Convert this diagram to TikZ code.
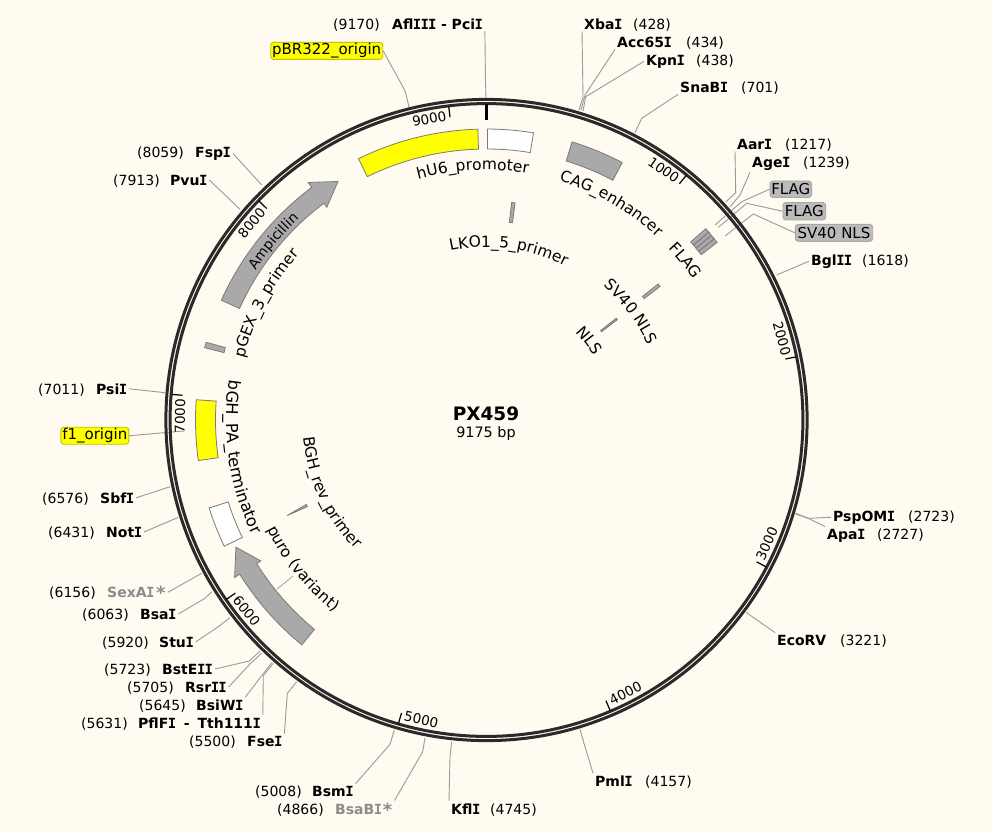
\documentclass[tikz,border=0pt]{standalone}
\usepackage{fontspec}
\setmainfont{DejaVu Sans}
\setmonofont{DejaVu Sans Mono}
\usetikzlibrary{decorations.text}
\catcode`\_=12
\definecolor{bgcol}{HTML}{FFFBF0}
\definecolor{ringcol}{HTML}{2A2A2A}
\definecolor{leadcol}{HTML}{9A9A9A}
\definecolor{featgray}{HTML}{A9A9A9}
\definecolor{featline}{HTML}{7A7A7A}
\definecolor{tagfill}{HTML}{BBBBBB}
\definecolor{tagline}{HTML}{A8A8A8}
\definecolor{ylw}{HTML}{FFFF00}
\definecolor{ylwline}{HTML}{C2C200}
\definecolor{mutedtxt}{HTML}{8C8C8C}
\newcommand\lblfont{\fontsize{14}{16}\selectfont}
\newcommand\arcfont{\fontsize{15.5}{17}\selectfont}
\newcommand\ampfont{\fontsize{14}{16}\selectfont}
\newcommand\bghfont{\fontsize{16.3}{18}\selectfont}
\newcommand\tagfont{\fontsize{15}{17}\selectfont}
\newcommand\II{{\ttfamily\bfseries\kern-.03em I\kern-.03em}}
\newcommand\Ast{\raisebox{-2pt}{\fontsize{18}{18}\selectfont *}}
\newcommand\CX{486.5}
\newcommand\CY{420}
% named polar point: name, bearing clockwise from the top, radius
\newcommand\PC[3]{\coordinate (#1) at ({\CX+(#3)*sin(#2)},{\CY-(#3)*cos(#2)});}
% annular sector
\newcommand\sector[5]{\draw[#1] plot[variable=\t,domain=0:1,samples=30] ({\CX+(#5)*sin(#2+(#3-#2)*\t)},{\CY-(#5)*cos(#2+(#3-#2)*\t)}) -- plot[variable=\t,domain=0:1,samples=30] ({\CX+(#4)*sin(#3+(#2-#3)*\t)},{\CY-(#4)*cos(#3+(#2-#3)*\t)}) -- cycle;}
% arrow feature: style, tail, neck, tip bearing
\newcommand\featarrow[4]{\PC{hA}{#3}{297}\PC{hB}{#4}{281}\PC{hC}{#3}{266}
  \draw[#1] plot[variable=\t,domain=0:1,samples=30] ({\CX+291*sin(#2+(#3-#2)*\t)},{\CY-291*cos(#2+(#3-#2)*\t)}) -- (hA) -- (hB) -- (hC) -- plot[variable=\t,domain=0:1,samples=30] ({\CX+271*sin(#3+(#2-#3)*\t)},{\CY-271*cos(#3+(#2-#3)*\t)}) -- cycle;}
% curved label: font, centre bearing, baseline radius, direction, text
\newcommand\arctext[5]{\path[decorate,decoration={text along path,text align=center,text={|#1|#5}}] plot[variable=\t,domain=0:1,samples=90] ({\CX+(#3)*sin(#2+(#4)*45*(2*\t-1))},{\CY-(#3)*cos(#2+(#4)*45*(2*\t-1))});}
% scale tick
\newcommand\ticklab[1]{\pgfmathsetmacro\tb{#1/9175*360}\pgfmathsetmacro\lb{\tb-3.9}
  \pgfmathsetmacro\rt{ifthenelse(\lb>90 && \lb<270,180-\lb,-\lb)}
  \PC{tA#1}{\tb}{316}\PC{tB#1}{\tb}{305}
  \draw[tickline] (tA#1) -- (tB#1);
  \node[ticktxt,rotate=\rt] (t#1) at ({\CX+306.5*sin(\lb)},{\CY-306.5*cos(\lb)}) {#1};}
% enzyme label: id, bold x, centre y, bold text, number x, number
\newcommand\enz[6]{\node[lbl,anchor=base west,font=\lblfont\bfseries] (n#1) at ({#2-2},{#3+5}) {#4};
  \node[lbl,anchor=base west] (m#1) at ({#5-2},{#3+5}) {(#6)};}
\newcommand\enzg[6]{\node[lbl,anchor=base west,font=\lblfont\bfseries,text=mutedtxt] (n#1) at ({#2-2},{#3+5}) {#4};
  \node[lbl,anchor=base west] (m#1) at ({#5-2},{#3+5}) {(#6)};}
% leaders
\newcommand\leadk[4]{\coordinate (#1-k) at (#3); \coordinate (#1-e) at (#4); \draw[leader] (n#1.#2) -- (#1-k) -- (#1-e);}
\newcommand\leads[3]{\coordinate (#1-e) at (#3); \draw[leader] (n#1.#2) -- (#1-e);}
\tikzset{
  lbl/.style={inner sep=2pt,font=\lblfont,text=black},
  ticktxt/.style={inner sep=0pt,font=\fontsize{13.5}{15}\selectfont,text=black},
  tickline/.style={draw=black,line width=1.2pt},
  leader/.style={draw=leadcol,line width=.9pt},
  ringline/.style={draw=ringcol,line width=3pt},
  fgray/.style={fill=featgray,draw=featline,line width=.8pt},
  fyellow/.style={fill=ylw,draw=featline,line width=.8pt},
  fwhite/.style={fill=white,draw=featline,line width=.8pt},
  tag/.style={rounded corners=3pt,inner sep=0pt,font=\tagfont,text=black,line width=.9pt},
  graytag/.style={tag,fill=tagfill,draw=tagline},
  yellowtag/.style={tag,fill=ylw,draw=ylwline},
}
\begin{document}
\begin{tikzpicture}[x=1pt,y=-1pt]
\fill[bgcol] (0,0) rectangle (992,831);
\useasboundingbox (0,0) rectangle (992,831);

% features
\sector{fyellow}{-26.1}{-1.7}{271}{291}
\sector{fwhite}{0.2}{9.3}{271}{291}
\sector{fgray}{17.1}{27.8}{271}{291}
\sector{fgray}{48.9}{49.8}{271}{291}
\sector{fgray}{49.8}{50.65}{271}{291}
\sector{fgray}{50.65}{51.5}{271}{291}
\sector{fgray}{51.5}{52.4}{271}{291}
\sector{fgray}{6.6}{7.5}{199}{219}
\sector{fgray}{51.6}{52.4}{199}{219}
\sector{fgray}{51.9}{52.5}{145}{165}
\sector{fgray}{-75.6}{-74.5}{271}{291}
\sector{fyellow}{-98}{-86}{271}{291}
\sector{fwhite}{-115.7}{-107.6}{271}{291}
\featarrow{fgray}{-65.7}{-36.9}{-31.9}
\featarrow{fgray}{-140.6}{-122}{-116.9}
\PC{bgA}{-115.6}{221}
\PC{bgB}{-115.1}{199}
\PC{bgC}{-115.8}{199}
\draw[fgray] (bgA) -- (bgB) -- (bgC) -- cycle;
\coordinate (puroA) at (277,589); \coordinate (puroB) at (293,576);
\draw[leader,line width=.7pt] (puroA) -- (puroB);

% curved feature labels
\arctext{\arcfont}{-3.1}{250}{1}{hU6_promoter}
\arctext{\arcfont}{30}{250}{1}{CAG_enhancer}
\arctext{\arcfont}{51.3}{250}{1}{FLAG}
\arctext{\arcfont}{7.5}{173}{1}{LKO1_5_primer}
\arctext{\arcfont}{53}{178}{1}{SV40 NLS}
\arctext{\arcfont}{52.4}{125}{1}{NLS}
\arctext{\ampfont}{-50}{275}{1}{Ampicillin}
\arctext{\arcfont}{-62}{250}{1}{pGEX_3_primer}
\arctext{\bghfont}{-98.7}{260.5}{-1}{bGH_PA_terminator}
\arctext{\arcfont}{-129}{245}{-1}{puro (variant)}
\arctext{\arcfont}{-115}{184}{-1}{BGH_rev_primer}

% enzyme labels
\enz{Afl}{392}{24}{Afl\II\II\II{} - Pci\II}{333}{9170}
\enz{Xba}{584}{24}{Xba\II}{633}{428}
\enz{Acc}{617}{42}{Acc65\II}{686}{434}
\enz{Kpn}{646}{60}{Kpn\II}{696}{438}
\enz{Sna}{680}{87}{SnaB\II}{741}{701}
\enz{Aar}{737}{144}{Aar\II}{785}{1217}
\enz{Age}{752}{162}{Age\II}{803}{1239}
\enz{Bgl}{811}{260}{Bgl\II\II}{862}{1618}
\enz{Psp}{833}{516}{PspOM\II}{908}{2723}
\enz{Apa}{827}{534}{Apa\II}{877}{2727}
\enz{Eco}{777}{640}{EcoRV}{840}{3221}
\enz{Pml}{595}{781}{Pml\II}{645}{4157}
\enz{Kfl}{451}{809}{Kfl\II}{490}{4745}
\enzg{BsaB}{335}{809}{BsaB\II\kern1pt\Ast}{277}{4866}
\enz{Bsm}{312}{791}{Bsm\II}{255}{5008}
\enz{Fse}{247}{741}{Fse\II}{189}{5500}
\enz{Pfl}{138}{723}{PflF\II\hspace{3pt} - \hspace{3pt}Tth111\II}{81}{5631}
\enz{BsiW}{196}{705}{BsiW\II}{139}{5645}
\enz{Rsr}{185}{687}{Rsr\II\II}{127}{5705}
\enz{Bst}{162}{669}{BstE\II\II}{104}{5723}
\enz{Stu}{159}{642}{Stu\II}{102}{5920}
\enz{Bsa}{140}{614}{Bsa\II}{82}{6063}
\enzg{Sex}{107}{592}{SexA\II\kern2pt\Ast}{49}{6156}
\enz{Not}{106}{532}{Not\II}{48}{6431}
\enz{Sbf}{100}{498}{Sbf\II}{42}{6576}
\enz{Psi}{96}{389}{Psi\II}{38}{7011}
\enz{Pvu}{170}{180}{Pvu\II}{113}{7913}
\enz{Fsp}{195}{152}{Fsp\II}{137}{8059}

% tags
\node[yellowtag,minimum width=112pt,minimum height=17pt] (npBR) at (326.7,50.8) {pBR322_origin};
\node[yellowtag,minimum width=68pt,minimum height=17pt] (nf1) at (94.8,435.7) {f1_origin};
\node[graytag,minimum width=41.7pt,minimum height=16.5pt] (nFa) at (790.8,189.2) {FLAG};
\node[graytag,minimum width=42.7pt,minimum height=17.5pt] (nFb) at (804.3,211.2) {FLAG};
\node[graytag,minimum width=77.4pt,minimum height=17pt] (nSV) at (834,232.8) {SV40 NLS};

% leaders
\leadk{Afl}{south east}{485.5,82}{486,98}
\leadk{Xba}{south west}{583,97}{579,110}
\leadk{Acc}{south west}{585,95}{581,110}
\leadk{Kpn}{west}{585.7,96.7}{583,111}
\leadk{Sna}{south west}{641.7,118.3}{635,132.7}
\leadk{Aar}{south west}{735.7,192.7}{726,201.7}
\leadk{Age}{south west}{740,195}{730,207}
\leads{Bgl}{west}{776.7,275}
\leadk{Psp}{west}{808.3,518.3}{795.7,513.3}
\leadk{Apa}{north west}{808.3,518.3}{795.7,514}
\leads{Eco}{north west}{746,612.3}
\leadk{Pml}{north west}{584,743.3}{580,729.3}
\leadk{Kfl}{north west}{450,756.7}{451.7,741.7}
\leadk{BsaB}{north east}{422.7,751.7}{425,737.7}
\leadk{Bsm}{north east}{390,744.3}{394.3,730}
\leadk{Fse}{north east}{287.3,693.3}{296.7,681.7}
\leadk{Pfl}{north east}{263.3,675.7}{273.3,663.3}
\leads{BsiW}{north east}{271.7,662.7}
\leadk{Rsr}{east}{250,664}{261.7,653}
\leadk{Bst}{east}{249.3,661}{260,651}
\leadk{Stu}{east}{218.3,626.7}{230,617.7}
\leadk{Bsa}{east}{205,598.3}{211.7,591.7}
\leads{Sex}{east}{201.7,573.3}
\leads{Not}{east}{178.3,517.3}
\leads{Sbf}{east}{170,486.7}
\leads{Psi}{east}{165,392.7}
\leads{f1}{east}{184,431}
\leads{Pvu}{east}{240,209.3}
\leads{Fsp}{east}{261.7,185}
\leadk{pBR}{east}{405,90.7}{409.3,108}
\leadk{Fa}{west}{741.7,201.7}{715,225}
\leadk{Fb}{west}{746.7,203.3}{718.3,227.3}
\leadk{SV}{west}{753.3,214}{725,236}

% backbone
\coordinate (ctr) at (\CX,\CY);
\draw[ringline] (ctr) circle[radius=320.6];
\draw[ringline] (ctr) circle[radius=316.4];

% ticks
\ticklab{1000}
\ticklab{2000}
\ticklab{3000}
\ticklab{4000}
\ticklab{5000}
\ticklab{6000}
\ticklab{7000}
\ticklab{8000}
\ticklab{9000}
\coordinate (oA) at (\CX,104); \coordinate (oB) at (\CX,120);
\draw[draw=black,line width=3pt] (oA) -- (oB);

% title
\node[inner sep=0pt,font=\fontsize{18.5}{20}\selectfont\bfseries] (title) at (486,414) {PX459};
\node[inner sep=0pt,font=\fontsize{14.4}{16}\selectfont] (size) at (486,434) {9175 bp};
\end{tikzpicture}
\end{document}
